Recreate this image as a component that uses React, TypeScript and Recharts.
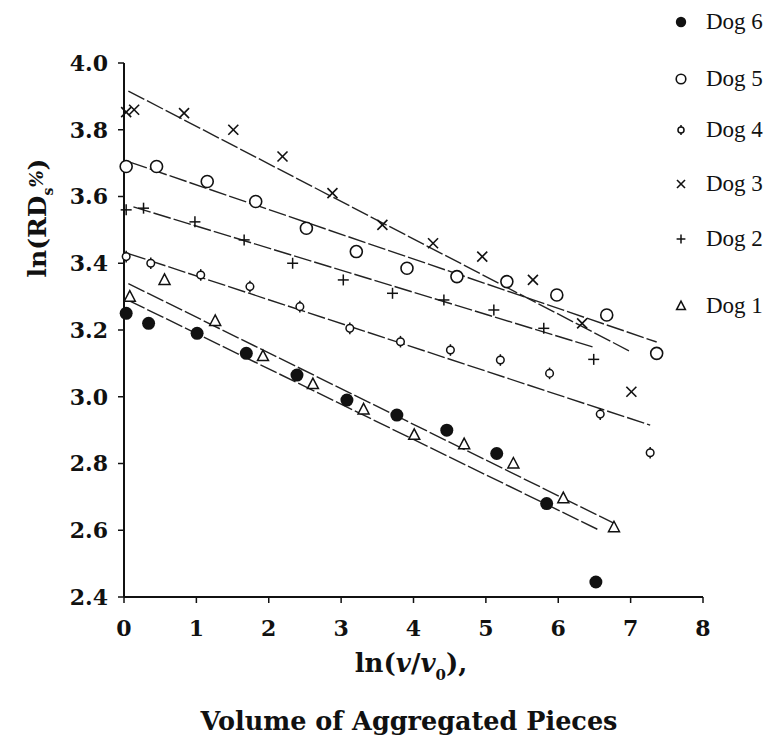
import React from 'react';
import { ScatterChart, Scatter, XAxis, YAxis, Label } from 'recharts';

// measured points, [ln(v/v0), ln(RDs%)]
const dog6: [number, number][] = [
  [0.03, 3.25], [0.34, 3.22], [1.01, 3.19], [1.69, 3.13], [2.39, 3.065], [3.08, 2.99],
  [3.77, 2.945], [4.46, 2.9], [5.15, 2.83], [5.84, 2.68], [6.52, 2.445],
];
const dog5: [number, number][] = [
  [0.03, 3.69], [0.45, 3.69], [1.15, 3.645], [1.82, 3.585], [2.52, 3.505], [3.21, 3.435],
  [3.91, 3.385], [4.6, 3.36], [5.29, 3.345], [5.98, 3.305], [6.67, 3.245], [7.36, 3.13],
];
const dog4: [number, number][] = [
  [0.03, 3.42], [0.37, 3.4], [1.06, 3.365], [1.74, 3.33], [2.43, 3.27], [3.12, 3.205],
  [3.82, 3.165], [4.51, 3.14], [5.2, 3.11], [5.88, 3.07], [6.58, 2.948], [7.27, 2.832],
];
const dog3: [number, number][] = [
  [0.03, 3.853], [0.14, 3.86], [0.83, 3.85], [1.51, 3.8], [2.19, 3.72], [2.88, 3.61],
  [3.57, 3.515], [4.27, 3.46], [4.95, 3.42], [5.65, 3.35], [6.33, 3.22], [7.01, 3.015],
];
const dog2: [number, number][] = [
  [0.03, 3.56], [0.27, 3.565], [0.98, 3.524], [1.66, 3.47], [2.33, 3.4], [3.03, 3.35],
  [3.71, 3.31], [4.42, 3.29], [5.11, 3.26], [5.8, 3.205], [6.49, 3.112],
];
const dog1: [number, number][] = [
  [0.08, 3.3], [0.56, 3.35], [1.26, 3.227], [1.92, 3.122], [2.61, 3.038], [3.31, 2.962],
  [4.01, 2.886], [4.7, 2.858], [5.38, 2.8], [6.07, 2.696], [6.77, 2.609],
];

// regression line end points
const fit6: [number, number][] = [[0.06, 3.289], [6.54, 2.603]];
const fit5: [number, number][] = [[0.08, 3.703], [7.36, 3.164]];
const fit4: [number, number][] = [[0.06, 3.429], [7.27, 2.915]];
const fit3: [number, number][] = [[0.06, 3.916], [7.01, 3.134]];
const fit2: [number, number][] = [[0.13, 3.569], [6.48, 3.149]];
const fit1: [number, number][] = [[0.06, 3.339], [6.76, 2.622]];

const xTicks = [0, 1, 2, 3, 4, 5, 6, 7, 8];
const yTicks = [2.4, 2.6, 2.8, 3.0, 3.2, 3.4, 3.6, 3.8, 4.0];
const dogNames = ['Dog 6', 'Dog 5', 'Dog 4', 'Dog 3', 'Dog 2', 'Dog 1'];

const INK = '#111';
const toPts = (a: [number, number][]) => a.map(([x, y]) => ({ x, y }));

type MarkProps = { cx?: number; cy?: number; s?: number };

const FilledDot = ({ cx = 0, cy = 0, s = 1 }: MarkProps) => <circle cx={cx} cy={cy} r={6.5 * s} fill={INK} />;
const OpenDot = ({ cx = 0, cy = 0, s = 1 }: MarkProps) => (
  <circle cx={cx} cy={cy} r={6 * s} fill="#fff" stroke={INK} strokeWidth={1.6} />
);
const SmallDot = ({ cx = 0, cy = 0, s = 1 }: MarkProps) => (
  <g stroke={INK} strokeWidth={1.5}>
    <circle cx={cx} cy={cy} r={3.8 * s} fill="#fff" />
    <line x1={cx} y1={cy - 3.8 * s - 2} x2={cx} y2={cy - 3.8 * s} />
    <line x1={cx} y1={cy + 3.8 * s} x2={cx} y2={cy + 3.8 * s + 2} />
  </g>
);
const Cross = ({ cx = 0, cy = 0, s = 1 }: MarkProps) => (
  <g stroke={INK} strokeWidth={1.6}>
    <line x1={cx - 5 * s} y1={cy - 5 * s} x2={cx + 5 * s} y2={cy + 5 * s} />
    <line x1={cx - 5 * s} y1={cy + 5 * s} x2={cx + 5 * s} y2={cy - 5 * s} />
  </g>
);
const Plus = ({ cx = 0, cy = 0, s = 1 }: MarkProps) => (
  <g stroke={INK} strokeWidth={1.5}>
    <line x1={cx - 5.5 * s} y1={cy} x2={cx + 5.5 * s} y2={cy} />
    <line x1={cx} y1={cy - 5.5 * s} x2={cx} y2={cy + 5.5 * s} />
  </g>
);
const Tri = ({ cx = 0, cy = 0, s = 1 }: MarkProps) => (
  <polygon
    points={`${cx},${cy - 6 * s} ${cx - 5.5 * s},${cy + 4.5 * s} ${cx + 5.5 * s},${cy + 4.5 * s}`}
    fill="#fff"
    stroke={INK}
    strokeWidth={1.5}
  />
);
const NoMark = () => <g />;

const marks = [FilledDot, OpenDot, SmallDot, Cross, Plus, Tri];
const legendTops = [22, 79, 130, 184, 239, 306];

const lineStyle = { stroke: '#222', strokeWidth: 1.4, strokeDasharray: '18 3' };

const YTitle = () => (
  <text
    x={0}
    y={0}
    transform="translate(46, 218) rotate(-90)"
    textAnchor="middle"
    fontFamily="DejaVu Serif"
    fontWeight="bold"
    fontSize={25}
    fill={INK}
  >
    ln(RD
    <tspan fontSize={14} dy={7}>s</tspan>
    <tspan fontSize={18} fontStyle="italic" dy={-10}>%</tspan>
    <tspan dy={3}>)</tspan>
  </text>
);

const XTitle = () => (
  <g fontFamily="DejaVu Serif" fontWeight="bold" fill={INK} textAnchor="middle">
    <text x={411} y={672} fontSize={26}>
      ln(<tspan fontStyle="italic">v</tspan>/<tspan fontStyle="italic">v</tspan>
      <tspan fontSize={15} dy={8}>0</tspan>
      <tspan dy={-8}>),</tspan>
    </text>
    <text x={409} y={730} fontSize={25.5}>Volume of Aggregated Pieces</text>
  </g>
);

export default function App() {
  const series = [dog6, dog5, dog4, dog3, dog2, dog1];
  const fits = [fit6, fit5, fit4, fit3, fit2, fit1];
  return (
    <div style={{ position: 'absolute', left: 0, top: 0, width: 773, height: 752, background: '#fff' }}>
      <ScatterChart width={773} height={752} margin={{ top: 63, right: 70, bottom: 0, left: 0 }}>
        <XAxis
          type="number"
          dataKey="x"
          domain={[0, 8]}
          ticks={xTicks}
          height={155}
          axisLine={{ stroke: INK, strokeWidth: 2 }}
          tickLine={{ stroke: INK, strokeWidth: 1.5 }}
          tickSize={6}
          tickMargin={17}
          tick={{ fontFamily: 'DejaVu Serif', fontWeight: 'bold', fontSize: 22, fill: INK }}
        >
          <Label content={<XTitle />} />
        </XAxis>
        <YAxis
          type="number"
          dataKey="y"
          domain={[2.4, 4.0]}
          ticks={yTicks}
          width={124}
          axisLine={{ stroke: INK, strokeWidth: 2 }}
          tickLine={{ stroke: INK, strokeWidth: 1.5 }}
          tickSize={6}
          tickMargin={10}
          tickFormatter={(v: number) => v.toFixed(1)}
          tick={{ fontFamily: 'DejaVu Serif', fontWeight: 'bold', fontSize: 22, fill: INK }}
        >
          <Label content={<YTitle />} />
        </YAxis>
        {fits.map((f, i) => (
          <Scatter
            key={'fit' + i}
            data={toPts(f)}
            line={lineStyle}
            shape={<NoMark />}
            isAnimationActive={false}
          />
        ))}
        {series.map((d, i) => {
          const M = marks[i];
          return (
            <Scatter
              key={dogNames[i]}
              name={dogNames[i]}
              data={toPts(d)}
              shape={(p: any) => <M cx={p.cx} cy={p.cy} />}
              isAnimationActive={false}
            />
          );
        })}
      </ScatterChart>
      {dogNames.map((n, i) => {
        const M = marks[i];
        return (
          <div
            key={n}
            style={{ position: 'absolute', left: 668, top: legendTops[i] - 14, height: 28, display: 'flex', alignItems: 'center' }}
          >
            <svg width={26} height={28}>
              <M cx={13} cy={14} s={0.8} />
            </svg>
            <span style={{ marginLeft: 12, fontFamily: 'Liberation Serif', fontSize: 23, color: INK }}>{n}</span>
          </div>
        );
      })}
    </div>
  );
}
